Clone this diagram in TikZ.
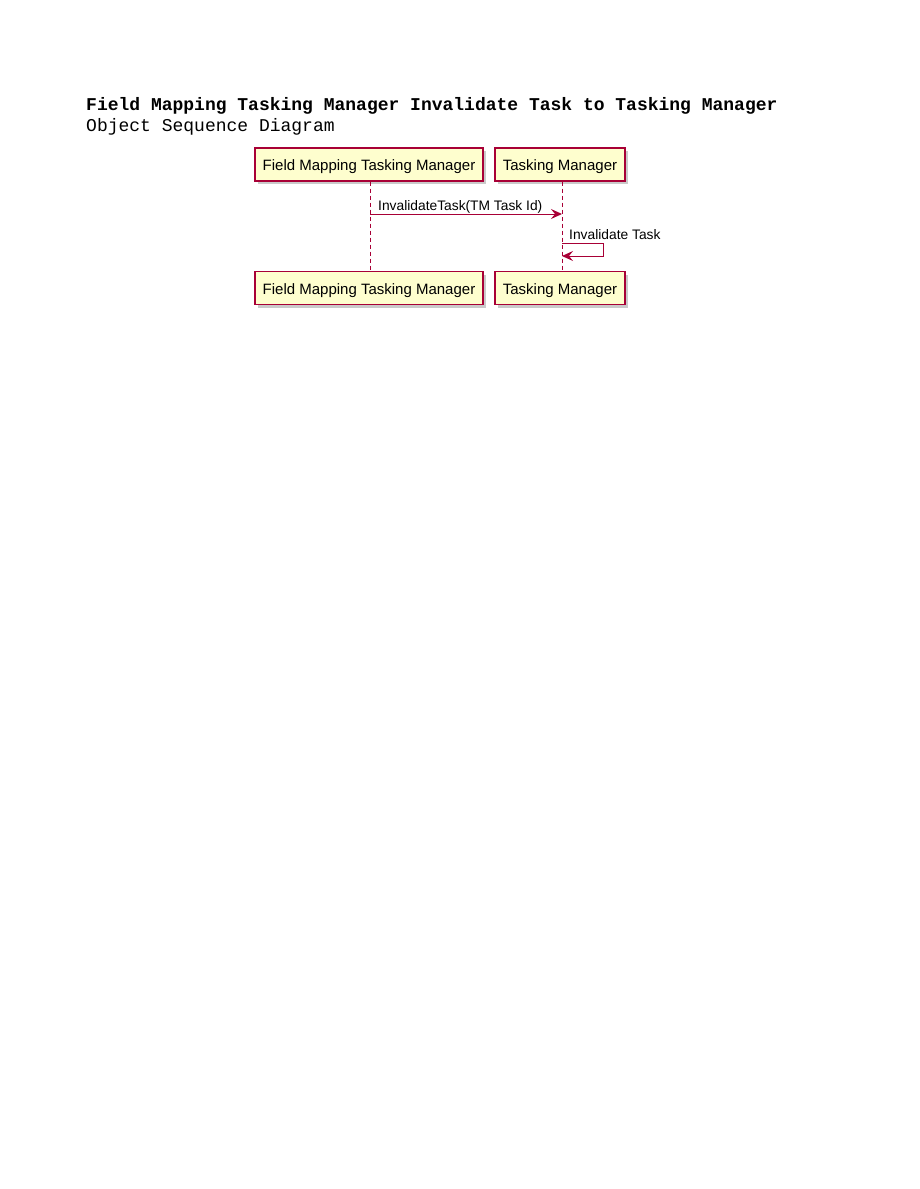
\documentclass[tikz,border=0pt]{standalone}
\usepackage{fontspec}
\setmainfont{Liberation Sans}
\newfontfamily\monofont{Liberation Mono}
\usetikzlibrary{arrows.meta,shadows}
\definecolor{umlfill}{HTML}{FEFECE}
\definecolor{umlline}{HTML}{A80036}
\tikzset{
  x=1pt, y=-1pt,
  actorbox/.style={draw=umlline, line width=1.1pt, fill=umlfill, inner sep=0pt,
    minimum height=33pt, text height=15pt, text depth=3pt, font=\fontsize{15}{17}\selectfont,
    drop shadow={shadow xshift=3pt, shadow yshift=-3pt, fill=black!35, opacity=0.6}},
  lifeline/.style={draw=umlline, line width=0.8pt, dash pattern=on 4pt off 3pt},
  msg/.style={draw=umlline, line width=1pt, -{Stealth[length=11pt,width=10pt,inset=4pt]}},
  msglabel/.style={font=\fontsize{13.8}{15}\selectfont, anchor=base west, inner sep=0pt},
}
\begin{document}
\begin{tikzpicture}
\useasboundingbox (0,0) rectangle (919,1189);
% heading
\node[anchor=base west, inner sep=0pt, font=\monofont\bfseries\fontsize{18}{20}\selectfont] (title) at (86,110)
  {Field Mapping Tasking Manager Invalidate Task to Tasking Manager};
\node[anchor=base west, inner sep=0pt, font=\monofont\fontsize{18}{20}\selectfont] (subtitle) at (86,131)
  {Object Sequence Diagram};
% participants
\node[actorbox, minimum width=228pt] (fmtTop) at (369,164.5) {Field Mapping Tasking Manager};
\node[actorbox, minimum width=130pt] (tmTop) at (560,164.5) {Tasking Manager};
\node[actorbox, minimum width=228pt] (fmtBot) at (369,288) {Field Mapping Tasking Manager};
\node[actorbox, minimum width=130pt] (tmBot) at (560,288) {Tasking Manager};
% lifelines
\coordinate (fmtA) at (370,181.5);
\coordinate (fmtB) at (370,271.5);
\coordinate (tmA) at (562,181.5);
\coordinate (tmB) at (562,271.5);
\draw[lifeline] (fmtA) -- (fmtB);
\draw[lifeline] (tmA) -- (tmB);
% messages
\coordinate (m1s) at (370,214);
\coordinate (m1e) at (562,214);
\draw[msg] (m1s) -- (m1e);
\node[msglabel] (m1label) at (378,210) {InvalidateTask(TM Task Id)};
\coordinate (m2s) at (562,243);
\coordinate (m2e) at (562,256);
\draw[msg] (m2s) -- ++(41,0) |- (m2e);
\node[msglabel] (m2label) at (569,239) {Invalidate Task};
\end{tikzpicture}
\end{document}
